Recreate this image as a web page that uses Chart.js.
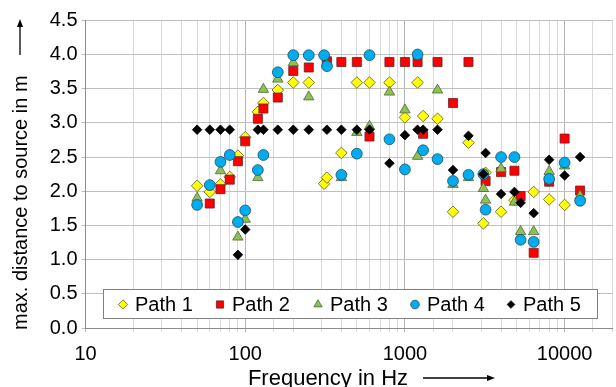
<!DOCTYPE html>
<html lang="en">
<head>
    <meta charset="UTF-8">
    <title>Distance to source vs frequency</title>
    <script src="https://cdn.jsdelivr.net/npm/chart.js"></script>
    <style>
        body { margin: 0; background: #fff; }
    </style>
</head>
<body>
    <canvas id="distChart" width="616" height="387"></canvas>

    <script>
        // measured max. distance per path (frequency in Hz, distance in m)
        var path1Freq = [50, 60, 70, 80, 90, 100, 120, 130, 160, 200, 250, 312, 325, 400, 500, 600, 800, 1000, 1200, 1300, 1600, 2000, 2500, 3100, 3200, 4000, 4850, 6400, 8000, 10000];
        var path1Dist = [2.08, 1.99, 2.10, 2.21, 2.52, 2.79, 3.16, 3.29, 3.48, 3.59, 3.59, 2.11, 2.20, 2.56, 3.59, 3.59, 3.59, 3.08, 3.59, 3.10, 3.06, 1.70, 2.71, 1.53, 2.27, 1.70, 1.87, 1.99, 1.88, 1.80];

        var path2Freq = [60, 70, 80, 90, 100, 120, 130, 160, 200, 250, 325, 400, 500, 600, 800, 1000, 1200, 1300, 1600, 2000, 2500, 3200, 4000, 4850, 5300, 6400, 8000, 10000, 12500];
        var path2Dist = [1.82, 2.03, 2.17, 2.44, 2.73, 3.06, 3.21, 3.37, 3.76, 3.81, 3.90, 3.89, 3.89, 2.80, 3.89, 3.89, 3.89, 2.84, 3.89, 3.29, 3.89, 2.15, 2.28, 2.30, 1.93, 1.10, 2.14, 2.77, 2.01];

        var path3Freq = [50, 70, 90, 100, 120, 130, 160, 200, 250, 325, 400, 500, 600, 800, 1000, 1200, 1600, 2000, 2500, 3100, 3200, 4000, 4850, 5300, 6400, 8000, 10000, 12500];
        var path3Dist = [1.90, 2.30, 1.33, 1.59, 2.20, 3.49, 3.64, 3.88, 3.38, 3.86, 2.20, 2.86, 2.95, 3.45, 3.19, 2.51, 3.48, 2.10, 2.20, 2.04, 1.87, 2.33, 1.84, 1.41, 1.41, 2.29, 2.37, 1.93];

        var path4Freq = [50, 60, 70, 80, 90, 100, 120, 130, 160, 200, 250, 312, 325, 400, 500, 600, 800, 1000, 1200, 1300, 1600, 2000, 2500, 3100, 3200, 4000, 4850, 5300, 6400, 8000, 10000, 12500];
        var path4Dist = [1.80, 2.09, 2.43, 2.53, 1.55, 1.72, 2.31, 2.53, 3.74, 3.99, 3.99, 3.99, 3.83, 2.24, 2.55, 3.99, 2.76, 2.32, 4.00, 2.60, 2.47, 2.15, 2.24, 2.25, 1.73, 2.50, 2.50, 1.29, 1.26, 2.18, 2.42, 1.86];

        var path5Freq = [50, 60, 70, 80, 90, 100, 120, 130, 160, 200, 250, 325, 400, 500, 600, 800, 1000, 1200, 1300, 1600, 2000, 2500, 3100, 3200, 4000, 4850, 5300, 6400, 8000, 10000, 12500];
        var path5Dist = [2.90, 2.90, 2.90, 2.90, 1.07, 1.44, 2.90, 2.90, 2.90, 2.90, 2.90, 2.90, 2.90, 2.90, 2.90, 2.41, 2.82, 2.90, 2.90, 2.90, 2.31, 2.81, 2.25, 2.56, 1.96, 1.99, 1.83, 1.68, 2.46, 2.23, 2.50];

        var seriesNames = ['Path 1', 'Path 2', 'Path 3', 'Path 4', 'Path 5'];
        var xTickLabels = [10, 100, 1000, 10000];
        var yMin = 0, yMax = 4.5, yStep = 0.5;
        var xMin = 10, xMax = 20000;

        var FONT = "'Liberation Sans', Arial, sans-serif";

        function toPoints(freq, dist) {
            return freq.map(function (f, i) { return { x: f, y: dist[i] }; });
        }

        var styles = [
            { pointStyle: 'rectRot', radius: 5.8, bg: '#ffff00', border: '#5a5a28', order: 5 },
            { pointStyle: 'rect', radius: 6.4, bg: '#ff0000', border: '#6b2020', order: 4 },
            { pointStyle: 'triangle', radius: 6, bg: '#8fbf5a', border: '#4e6a30', order: 3 },
            { pointStyle: 'circle', radius: 5.4, bg: '#00aeef', border: '#1f4a66', order: 2 },
            { pointStyle: 'rectRot', radius: 4.8, bg: '#000000', border: '#000000', order: 1 }
        ];
        var allData = [
            toPoints(path1Freq, path1Dist),
            toPoints(path2Freq, path2Dist),
            toPoints(path3Freq, path3Dist),
            toPoints(path4Freq, path4Dist),
            toPoints(path5Freq, path5Dist)
        ];

        var datasets = seriesNames.map(function (name, i) {
            var s = styles[i];
            return {
                label: name,
                data: allData[i],
                showLine: false,
                pointStyle: s.pointStyle,
                pointRadius: s.radius,
                pointHoverRadius: s.radius,
                backgroundColor: s.bg,
                borderColor: s.border,
                borderWidth: 0.8,
                order: s.order
            };
        });

        // legend box inside the plot plus both axis titles with arrows
        var decorations = {
            id: 'decorations',
            afterDraw: function (chart) {
                var ctx = chart.ctx;
                ctx.save();

                // legend
                var bx = 103, by = 289, bw = 494, bh = 29;
                ctx.fillStyle = '#ffffff';
                ctx.fillRect(bx, by, bw, bh);
                ctx.strokeStyle = '#808080';
                ctx.lineWidth = 1;
                ctx.strokeRect(bx + 0.5, by + 0.5, bw, bh);
                var mx = [123, 220, 318, 415, 511];
                var cy = by + bh / 2 + 1;
                ctx.font = '20px ' + FONT;
                ctx.textBaseline = 'middle';
                ctx.textAlign = 'left';
                seriesNames.forEach(function (name, i) {
                    var s = styles[i];
                    ctx.fillStyle = s.bg;
                    ctx.strokeStyle = s.border;
                    ctx.lineWidth = 0.8;
                    Chart.helpers.drawPoint(ctx, { pointStyle: s.pointStyle, radius: s.radius * 0.8, borderWidth: 0.8 }, mx[i], cy);
                    ctx.fillStyle = '#000000';
                    ctx.fillText(name, mx[i] + 12, cy + 1);
                });

                // x title
                ctx.fillStyle = '#000000';
                ctx.font = '22px ' + FONT;
                ctx.textAlign = 'center';
                ctx.textBaseline = 'alphabetic';
                ctx.fillText('Frequency in Hz', 328, 385);
                drawArrow(ctx, 423, 378, 495, 378);

                // y title
                ctx.font = '20px ' + FONT;
                ctx.save();
                ctx.translate(27, 330);
                ctx.rotate(-Math.PI / 2);
                ctx.textAlign = 'left';
                ctx.fillText('max. distance to source in m', 0, 0);
                ctx.restore();
                drawArrow(ctx, 20, 55, 20, 19);

                ctx.restore();
            }
        };

        function drawArrow(ctx, x1, y1, x2, y2) {
            var ang = Math.atan2(y2 - y1, x2 - x1);
            ctx.strokeStyle = '#000000';
            ctx.fillStyle = '#000000';
            ctx.lineWidth = 1.3;
            ctx.beginPath();
            ctx.moveTo(x1, y1);
            ctx.lineTo(x2 - 4 * Math.cos(ang), y2 - 4 * Math.sin(ang));
            ctx.stroke();
            ctx.beginPath();
            ctx.moveTo(x2, y2);
            ctx.lineTo(x2 - 8 * Math.cos(ang) + 3 * Math.sin(ang), y2 - 8 * Math.sin(ang) - 3 * Math.cos(ang));
            ctx.lineTo(x2 - 8 * Math.cos(ang) - 3 * Math.sin(ang), y2 - 8 * Math.sin(ang) + 3 * Math.cos(ang));
            ctx.closePath();
            ctx.fill();
        }

        function isDecade(v) {
            var l = Math.log10(v);
            return Math.abs(l - Math.round(l)) < 1e-9;
        }

        new Chart(document.getElementById('distChart').getContext('2d'), {
            type: 'scatter',
            data: { datasets: datasets },
            options: {
                responsive: false,
                animation: false,
                events: [],
                layout: { autoPadding: false, padding: { left: 30, right: 3.3, top: 20.3, bottom: 0 } },
                plugins: {
                    legend: { display: false },
                    tooltip: { enabled: false }
                },
                scales: {
                    x: {
                        type: 'logarithmic',
                        min: xMin,
                        max: xMax,
                        afterFit: function (scale) {
                            scale.height = 59;
                            scale.paddingLeft = 0;
                            scale.paddingRight = 0;
                        },
                        grid: {
                            color: function (c) { return c.tick && isDecade(c.tick.value) ? '#b4b4b4' : '#d9d9d9'; },
                            lineWidth: 1,
                            tickLength: 4
                        },
                        border: { color: '#8c8c8c' },
                        ticks: {
                            autoSkip: false,
                            maxRotation: 0,
                            padding: 10,
                            color: '#000000',
                            font: { family: FONT, size: 20 },
                            callback: function (v) {
                                return xTickLabels.indexOf(v) >= 0 ? String(v) : '';
                            }
                        }
                    },
                    y: {
                        min: yMin,
                        max: yMax,
                        afterFit: function (scale) {
                            scale.width = 55.5;
                            scale.paddingTop = 0;
                            scale.paddingBottom = 0;
                        },
                        grid: { color: '#bfbfbf', lineWidth: 1, tickLength: 4 },
                        border: { color: '#8c8c8c' },
                        ticks: {
                            stepSize: yStep,
                            padding: 4,
                            color: '#000000',
                            font: { family: FONT, size: 20 },
                            callback: function (v) { return v.toFixed(1); }
                        }
                    }
                }
            },
            plugins: [decorations]
        });
    </script>
</body>
</html>
